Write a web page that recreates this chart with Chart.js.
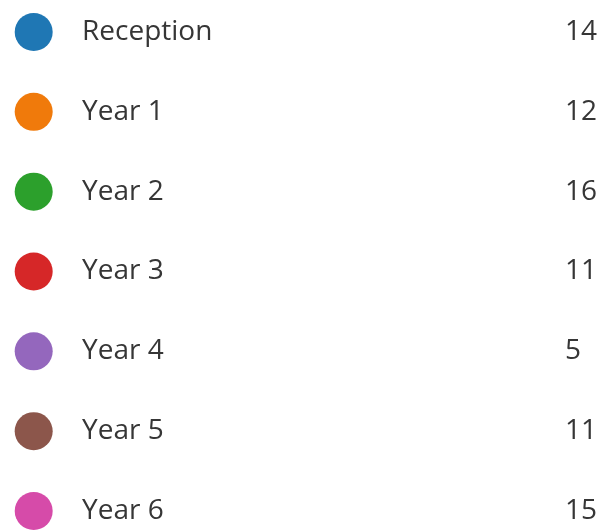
<!DOCTYPE html>
<html>
<head>
<meta charset="utf-8">
<script src="https://cdn.jsdelivr.net/npm/chart.js@4"></script>
<style>
  body { margin: 0; background: #fff; }
  #wrap { width: 604px; height: 530px; }
</style>
</head>
<body>
<div id="wrap"><canvas id="yearChart"></canvas></div>
<script>
const categories = ['Reception', 'Year 1', 'Year 2', 'Year 3', 'Year 4', 'Year 5', 'Year 6'];
const counts = [14, 12, 16, 11, 5, 11, 15];
const dotColors = ['#1f77b4', '#f07a0b', '#2ca02c', '#d62728', '#9467bd', '#8c564b', '#d64ba9'];

const textFont = { family: "'Open Sans', 'Noto Sans', sans-serif", size: 28 };
const textColor = '#363636';

// one dot per category, x is just a fixed column
let points = categories.map(name => ({ x: 0, y: name }));

// fix axis sizes so the layout padding alone decides the chart area
const fixAxis = width => scale => {
  scale.width = width;
  scale.paddingTop = 0;
  scale.paddingBottom = 0;
  scale.paddingLeft = 0;
  scale.paddingRight = 0;
};

const yearChart = new Chart(document.querySelector('#yearChart').getContext('2d'), {
  type: 'scatter',
  data: {
    datasets: [{
      data: points,
      yAxisID: 'y',
      pointRadius: 19,
      pointHoverRadius: 19,
      pointBorderWidth: 0,
      pointBackgroundColor: dotColors,
      pointBorderColor: dotColors,
      clip: false
    }]
  },
  options: {
    responsive: true,
    maintainAspectRatio: false,
    animation: false,
    events: [],
    layout: { padding: { top: 32, bottom: 14, left: 0, right: 0 } },
    plugins: { legend: { display: false }, tooltip: { enabled: false } },
    scales: {
      x: {
        type: 'linear', min: -5 / 11, max: 1, display: false,
        afterFit: scale => { scale.paddingLeft = 0; scale.paddingRight = 0; }
      },
      y: {
        type: 'category',
        labels: categories,
        position: 'right',
        offset: false,
        grid: { display: false, drawTicks: false },
        border: { display: false },
        ticks: { autoSkip: false, crossAlign: 'near', padding: 16, color: textColor, font: textFont },
        afterFit: fixAxis(499)
      },
      yv: {
        type: 'category',
        labels: counts.map(String),
        position: 'right',
        offset: false,
        grid: { display: false, drawTicks: false },
        border: { display: false },
        ticks: { autoSkip: false, crossAlign: 'near', padding: 0, color: textColor, font: textFont },
        afterFit: fixAxis(39)
      }
    }
  }
});
</script>
</body>
</html>
